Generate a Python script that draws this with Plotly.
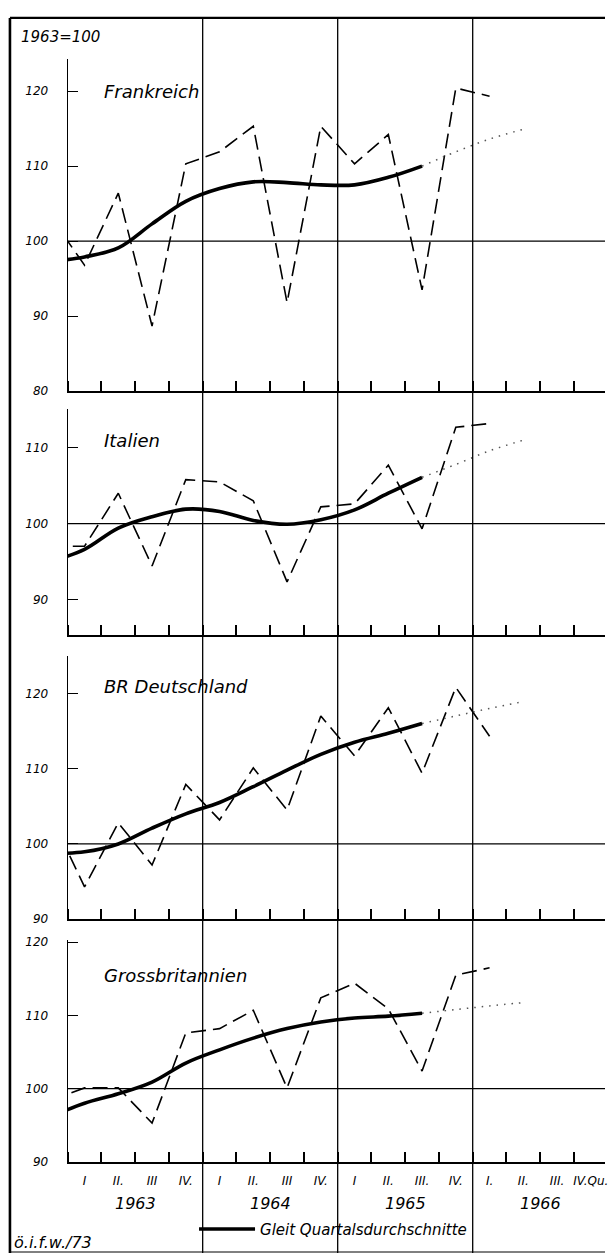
import plotly.graph_objects as go

FONT = "DejaVu Sans"

# ---------------- data ----------------
countries = ["Frankreich", "Italien", "BR Deutschland", "Grossbritannien"]
quarter_labels = ["I", "II.", "III", "IV.", "I", "II.", "III", "IV.",
                  "I", "II.", "III.", "IV.", "I.", "II.", "III.", "IV.Qu."]
years = ["1963", "1964", "1965", "1966"]

# quarterly values 1962 IV (enters at the axis) ... 1966 I
frankreich_q = [103.2, 96.8, 106.4, 88.7, 110.3, 111.9, 115.3, 91.8, 115.3, 110.3, 114.2, 93.5, 120.4, 119.3]
italien_q = [97.0, 97.0, 104.0, 94.4, 105.8, 105.5, 103.0, 92.3, 102.2, 102.6, 107.7, 99.3, 112.7, 113.2]
deutschland_q = [103.7, 94.3, 102.8, 97.2, 107.9, 103.2, 110.1, 104.5, 117.0, 111.7, 118.1, 109.4, 120.8, 114.3]
grossbritannien_q = [98.4, 100.1, 100.1, 95.3, 107.6, 108.2, 110.7, 100.1, 112.4, 114.4, 110.9, 102.4, 115.5, 116.5]

# moving quarterly averages 1962 IV ... 1965 III
frankreich_avg = [97.3, 97.9, 99.1, 102.3, 105.3, 107.0, 107.9, 107.8, 107.5, 107.5, 108.5, 110.0]
italien_avg = [95.0, 96.6, 99.4, 100.9, 101.9, 101.6, 100.4, 99.9, 100.5, 101.8, 104.0, 106.1]
deutschland_avg = [98.7, 98.95, 100.0, 102.1, 104.0, 105.5, 107.6, 109.8, 111.9, 113.5, 114.7, 116.0]
grossbritannien_avg = [96.2, 98.0, 99.3, 100.9, 103.5, 105.3, 106.9, 108.2, 109.1, 109.65, 109.9, 110.3]

# dotted extrapolation 1965 III ... 1966 II
frankreich_ext = [110.0, 111.9, 113.6, 114.9]
italien_ext = [106.1, 107.8, 109.6, 111.0]
deutschland_ext = [116.0, 117.0, 118.0, 118.9]
grossbritannien_ext = [110.3, 110.8, 111.3, 111.75]

quarterly = [frankreich_q, italien_q, deutschland_q, grossbritannien_q]
averages = [frankreich_avg, italien_avg, deutschland_avg, grossbritannien_avg]
extensions = [frankreich_ext, italien_ext, deutschland_ext, grossbritannien_ext]

y_ranges = [(80, 124.2), (85.3, 115.1), (90, 125), (90, 120.3)]
y_ticks = [[80, 90, 100, 110, 120], [90, 100, 110], [90, 100, 110, 120], [90, 100, 110, 120]]
legend_name = "Gleit Quartalsdurchschnitte"

# ---------------- layout helpers ----------------
W, H = 608, 1260
def py(px):  # pixel from top -> paper fraction
    return 1 - px / H

panel_px = [(55, 390), (408, 636), (657, 923), (944, 1168)]
x_dom = [68 / W, 1]
x_range = [0, 15.92]

# positions: quarter centres, first one is 1962 IV (left of axis)
q_pos = [i - 0.5 for i in range(len(frankreich_q))]
avg_pos = q_pos[:len(frankreich_avg)]
ext_pos = [avg_pos[-1] + i for i in range(len(frankreich_ext))]
mid_pos = [i + 0.5 for i in range(len(quarter_labels))]

fig = go.Figure()
layout = dict(
    width=W, height=H,
    margin=dict(l=0, r=0, t=0, b=0),
    paper_bgcolor="white", plot_bgcolor="white",
    font=dict(family=FONT, color="black", style="italic"),
    showlegend=True,
)

shapes = []
annotations = []

for i in range(4):
    n = i + 1
    xa = "x" if n == 1 else f"x{n}"
    ya = "y" if n == 1 else f"y{n}"
    top, bot = panel_px[i]
    last = (i == 3)
    layout[f"xaxis{'' if n == 1 else n}"] = dict(
        domain=x_dom, range=x_range, anchor=ya,
        showline=True, linewidth=2, linecolor="black",
        showgrid=False, zeroline=False,
        tickmode="array", tickvals=mid_pos, ticktext=quarter_labels,
        showticklabels=last, ticks="", ticklabelstandoff=7,
        ticklabeloverflow="allow",
        tickfont=dict(size=12, family=FONT, style="italic"),
        minor=dict(tick0=0, dtick=1, ticks="inside", ticklen=10,
                   tickwidth=1.5, tickcolor="black", showgrid=False),
        fixedrange=True,
    )
    layout[f"yaxis{'' if n == 1 else n}"] = dict(
        domain=[py(bot), py(top)], range=list(y_ranges[i]), anchor=xa,
        showline=True, linewidth=1.2, linecolor="black",
        showgrid=False, zeroline=False,
        tickmode="array", tickvals=y_ticks[i],
        ticks="inside", ticklen=10, tickwidth=1.2, tickcolor="black",
        ticklabelstandoff=16,
        tickfont=dict(size=12, family=FONT, style="italic"),
        fixedrange=True,
    )

    fig.add_trace(go.Scatter(
        x=q_pos, y=quarterly[i], mode="lines", xaxis=xa, yaxis=ya,
        line=dict(color="black", width=1.6, dash="15px,7px"),
        showlegend=False, cliponaxis=True))
    fig.add_trace(go.Scatter(
        x=avg_pos, y=averages[i], mode="lines", xaxis=xa, yaxis=ya,
        line=dict(color="black", width=3.6, shape="spline", smoothing=1),
        name=legend_name, showlegend=(i == 0)))
    fig.add_trace(go.Scatter(
        x=ext_pos, y=extensions[i], mode="lines", xaxis=xa, yaxis=ya,
        line=dict(color="#555555", width=1.5, dash="1.5px,6px", shape="spline"),
        showlegend=False))

    # 100 line
    shapes.append(dict(type="line", xref=f"{xa} domain", x0=0, x1=1,
                       yref=ya, y0=100, y1=100,
                       line=dict(color="black", width=1.2)))

    # panel title
    annotations.append(dict(
        text=countries[i], xref=f"{xa} domain", yref=f"{ya} domain",
        x=(103 - 68) / (W - 68), y=[0.904, 0.86, 0.883, 0.839][i],
        xanchor="left", yanchor="middle", showarrow=False,
        font=dict(size=18, family=FONT, style="italic")))

# year separators spanning the whole sheet
for yr in range(1, len(years)):
    shapes.append(dict(type="line", xref="x", x0=4 * yr, x1=4 * yr,
                       yref="paper", y0=0, y1=py(13),
                       line=dict(color="black", width=1.3)))

# frame: top and left borders, bottom edge
shapes.append(dict(type="line", xref="paper", yref="paper",
                   x0=10 / W, x1=1, y0=py(13), y1=py(13),
                   line=dict(color="black", width=2.2)))
shapes.append(dict(type="line", xref="paper", yref="paper",
                   x0=10 / W, x1=10 / W, y0=0, y1=py(13),
                   line=dict(color="black", width=2.6)))
shapes.append(dict(type="line", xref="paper", yref="paper",
                   x0=10 / W, x1=1, y0=py(1259), y1=py(1259),
                   line=dict(color="black", width=1)))

# year labels
for k, yr in enumerate(years):
    annotations.append(dict(text=yr, xref="x4", yref="paper",
                            x=4 * k + 2, y=py(1210), xanchor="center", yanchor="middle",
                            showarrow=False,
                            font=dict(size=16, family=FONT, style="italic")))

annotations.append(dict(text="1963=100", xref="paper", yref="paper",
                        x=19 / W, y=py(32), xanchor="left", yanchor="middle",
                        showarrow=False, font=dict(size=15, family=FONT, style="italic")))
annotations.append(dict(text="ö.i.f.w./73", xref="paper", yref="paper",
                        x=12 / W, y=py(1249), xanchor="left", yanchor="middle",
                        showarrow=False, font=dict(size=16, family=FONT, style="italic")))

layout["shapes"] = shapes
layout["annotations"] = annotations
layout["legend"] = dict(x=195 / W, y=py(1236), xanchor="left", yanchor="middle",
                        bgcolor="rgba(0,0,0,0)", borderwidth=0,
                        font=dict(size=15, family=FONT, style="italic"),
                        itemwidth=56)

fig.update_layout(**layout)
fig.write_html("out.html",
               config={"displayModeBar": False, "staticPlot": False},
               post_script="document.body.style.margin='0px';document.body.style.padding='0px';")
